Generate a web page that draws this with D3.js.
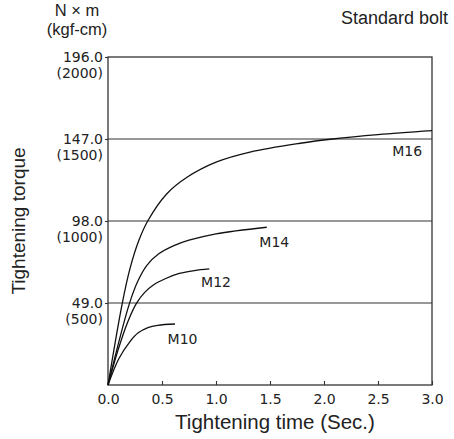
<!DOCTYPE html>
<html>
<head>
<meta charset="utf-8">
<script src="https://cdn.jsdelivr.net/npm/d3@7"></script>
<style>
  html, body { margin: 0; padding: 0; background: #fff; }
  svg { display: block; }
  .num { font-family: "DejaVu Sans", "Liberation Sans", sans-serif; }
  .lbl { font-family: "Liberation Sans", Arial, sans-serif; }
</style>
</head>
<body>
<script>
// ---- data (time in seconds, torque in kgf-cm) ----
const xTicks = [0, 0.5, 1.0, 1.5, 2.0, 2.5, 3.0];
const xTickLabels = ["0.0", "0.5", "1.0", "1.5", "2.0", "2.5", "3.0"];
const yTicks = [500, 1000, 1500, 2000];
const yTickLabelsNm = ["49.0", "98.0", "147.0", "196.0"];
const yTickLabelsKgf = ["(500)", "(1000)", "(1500)", "(2000)"];

const seriesNames = ["M16", "M14", "M12", "M10"];
const m16 = [[0,0],[0.132,498],[0.204,711],[0.287,884],[0.373,1006],[0.543,1165],[0.728,1265],[1.006,1360],[1.315,1420],[1.78,1474],[2.08,1500],[2.5,1527],[3.0,1551]];
const m14 = [[0,0],[0.199,498],[0.281,640],[0.36,730],[0.47,800],[0.61,850],[0.75,883],[1.0,922],[1.47,962]];
const m12 = [[0,0],[0.093,213],[0.18,380],[0.263,498],[0.34,565],[0.42,610],[0.53,648],[0.66,680],[0.8,698],[0.938,708]];
const m10 = [[0,0],[0.1,160],[0.2,262],[0.28,318],[0.37,350],[0.46,364],[0.62,372]];
// label anchor positions in data units (time, torque)
const labelPos = [[2.77,1427],[1.54,874],[1.0,628],[0.69,280]];

const W = 454, H = 439;
const margin = { left: 108, right: 22, top: 57, bottom: 54 };
const svg = d3.select("body").append("svg").attr("width", W).attr("height", H);

const x = d3.scaleLinear().domain([0, 3]).range([margin.left, W - margin.right]);
const y = d3.scaleLinear().domain([0, 2000]).range([H - margin.bottom, margin.top]);

const stroke = "#333";

// gridlines
svg.append("g").selectAll("line").data(yTicks.slice(0, 3)).join("line")
  .attr("x1", x(0)).attr("x2", x(3))
  .attr("y1", d => y(d)).attr("y2", d => y(d))
  .attr("stroke", stroke).attr("stroke-width", 1.1);

// frame
svg.append("rect")
  .attr("x", x(0)).attr("y", y(2000))
  .attr("width", x(3) - x(0)).attr("height", y(0) - y(2000))
  .attr("fill", "none").attr("stroke", stroke).attr("stroke-width", 1.3);

// x axis (inward ticks)
const xAxis = svg.append("g").attr("transform", `translate(0,${y(0)})`)
  .call(d3.axisBottom(x).tickValues(xTicks).tickSizeInner(-4).tickSizeOuter(0)
    .tickFormat((d, i) => xTickLabels[i]));
xAxis.select(".domain").remove();
xAxis.selectAll(".tick line").attr("stroke", stroke).attr("stroke-width", 1.1);
xAxis.selectAll(".tick text").attr("class", "num").attr("y", 9).attr("dy", "0.71em")
  .attr("font-size", 14).attr("fill", "#222");

// y axis (small outward ticks, two-line labels)
const yAxis = svg.append("g").attr("transform", `translate(${x(0)},0)`)
  .call(d3.axisLeft(y).tickValues(yTicks).tickSizeInner(3).tickSizeOuter(0).tickFormat(""));
yAxis.select(".domain").remove();
yAxis.selectAll(".tick line").attr("stroke", stroke).attr("stroke-width", 1.1);
yAxis.selectAll(".tick").each(function(d, i) {
  const g = d3.select(this);
  g.append("text").attr("class", "num").attr("x", -5).attr("y", 0).attr("dy", "0.35em")
    .attr("text-anchor", "end").attr("font-size", 14).attr("fill", "#222")
    .text(yTickLabelsNm[i]);
  g.append("text").attr("class", "num").attr("x", -5).attr("y", 16).attr("dy", "0.35em")
    .attr("text-anchor", "end").attr("font-size", 14).attr("fill", "#222")
    .text(yTickLabelsKgf[i]);
});

// curves
const line = d3.line().x(d => x(d[0])).y(d => y(d[1])).curve(d3.curveCatmullRom.alpha(0.5));
const allSeries = [m16, m14, m12, m10];
svg.append("g").selectAll("path").data(allSeries).join("path")
  .attr("d", line).attr("fill", "none").attr("stroke", "#111").attr("stroke-width", 1.3);

// series labels
svg.append("g").selectAll("text").data(seriesNames).join("text")
  .attr("class", "num")
  .attr("x", (d, i) => x(labelPos[i][0])).attr("y", (d, i) => y(labelPos[i][1]))
  .attr("dy", "0.35em").attr("text-anchor", "middle")
  .attr("font-size", 14).attr("fill", "#222").text(d => d);

// axis titles
svg.append("text").attr("class", "lbl")
  .attr("x", (x(0) + x(3)) / 2 + 5).attr("y", 429).attr("text-anchor", "middle")
  .attr("font-size", 20.5).attr("fill", "#222").text("Tightening time (Sec.)");
svg.append("text").attr("class", "lbl")
  .attr("transform", `translate(25,${(y(0) + y(2000)) / 2}) rotate(-90)`)
  .attr("text-anchor", "middle").attr("font-size", 19).attr("fill", "#222")
  .text("Tightening torque");

// unit labels
svg.append("text").attr("class", "lbl").attr("x", 77).attr("y", 16)
  .attr("text-anchor", "middle").attr("font-size", 16.5).attr("fill", "#222").text("N × m");
svg.append("text").attr("class", "lbl").attr("x", 77).attr("y", 35)
  .attr("text-anchor", "middle").attr("font-size", 16.5).attr("fill", "#222").text("(kgf-cm)");

// cut-off title at right
svg.append("text").attr("class", "lbl").attr("x", 341).attr("y", 24)
  .attr("font-size", 18).attr("fill", "#222").text("Standard bolt");
</script>
</body>
</html>
